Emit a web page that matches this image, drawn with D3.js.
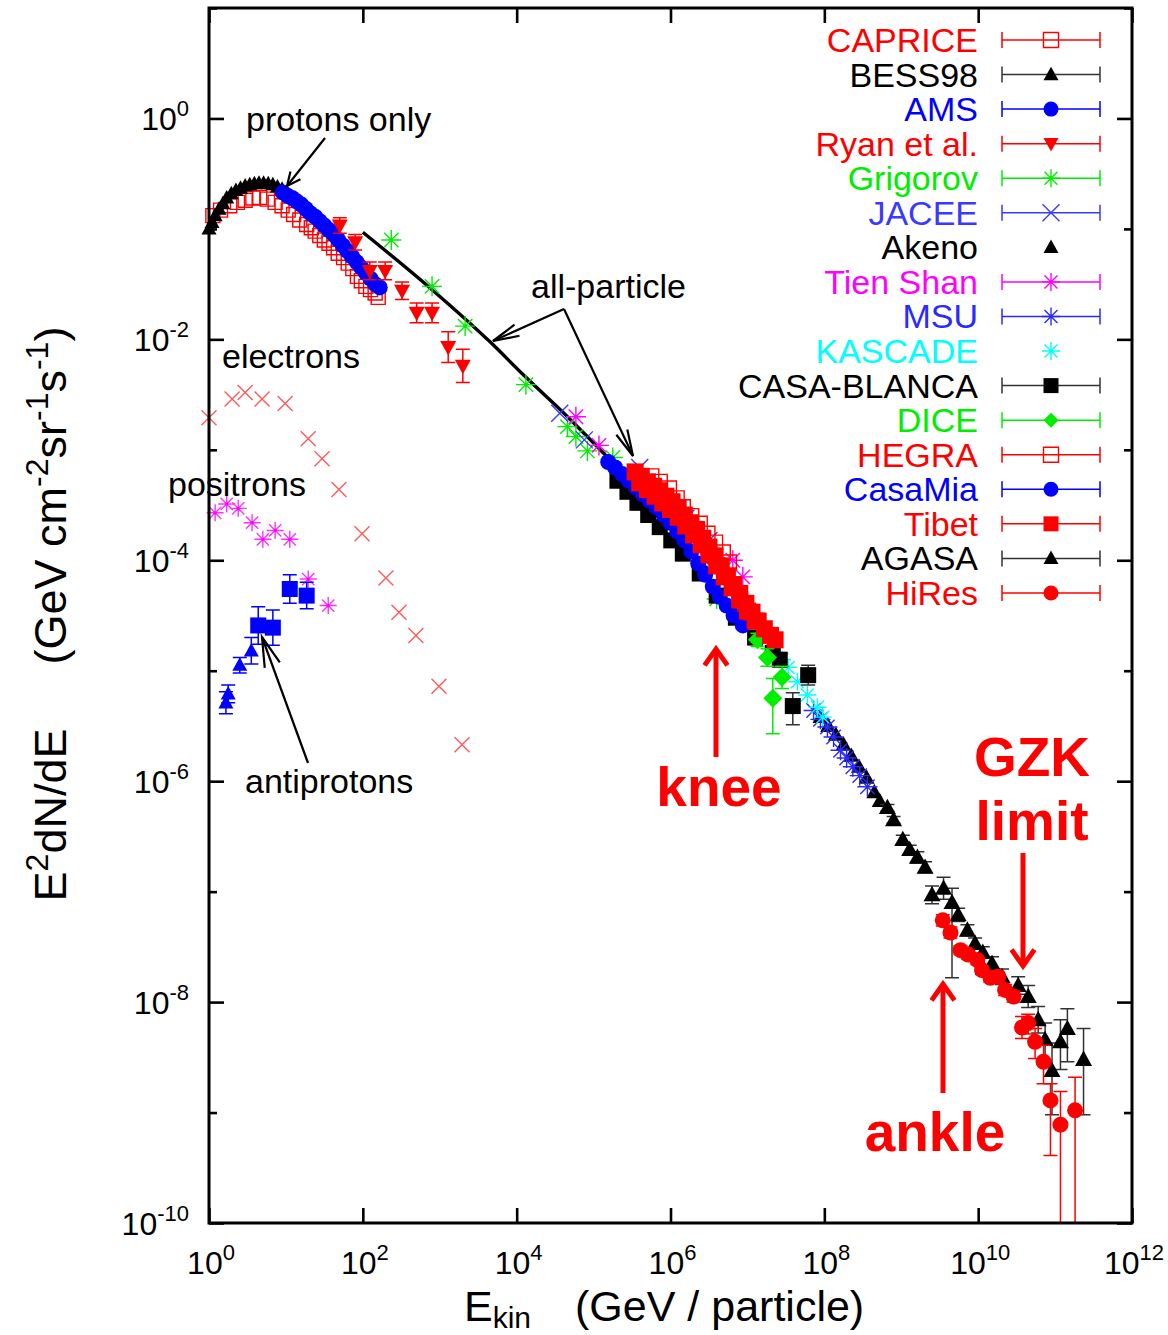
<!DOCTYPE html>
<html><head><meta charset="utf-8">
<script src="https://cdn.jsdelivr.net/npm/d3@7"></script>
<style>body{margin:0;background:#fff}svg{display:block;font-family:"Liberation Sans",Arial,Helvetica,sans-serif}</style>
</head><body><svg id="c" width="1168" height="1335"></svg>
<script>
// ---- DATA: each point = [log10 E (GeV), log10 E^2dN/dE, err up (dex), err down (dex)] ----
const caprice = [[0.05,-0.88],[0.15,-0.83],[0.27,-0.79],[0.37,-0.76],[0.47,-0.74],[0.57,-0.72],[0.66,-0.715],[0.76,-0.73],[0.86,-0.76],[0.95,-0.79],[1.03,-0.83],[1.10,-0.87],[1.18,-0.92],[1.27,-0.96],[1.33,-0.99],[1.38,-1.02],[1.44,-1.06],[1.50,-1.10],[1.56,-1.13],[1.62,-1.17],[1.68,-1.22],[1.75,-1.26],[1.81,-1.31],[1.87,-1.36],[1.93,-1.43],[1.98,-1.47],[2.04,-1.52],[2.10,-1.55],[2.16,-1.58],[2.20,-1.62]];
const bess98 = [[0.00,-1.00],[0.04,-0.94],[0.08,-0.88],[0.13,-0.82],[0.18,-0.77],[0.23,-0.72],[0.29,-0.68],[0.35,-0.65],[0.41,-0.63],[0.47,-0.61],[0.53,-0.60],[0.59,-0.59],[0.65,-0.585],[0.71,-0.585],[0.77,-0.59],[0.83,-0.60],[0.89,-0.62],[0.95,-0.64]];
const ams = [[0.96,-0.67],[1.02,-0.70],[1.08,-0.72],[1.14,-0.75],[1.20,-0.78],[1.26,-0.82],[1.32,-0.86],[1.38,-0.89],[1.44,-0.93],[1.50,-0.97],[1.56,-1.01],[1.62,-1.05],[1.68,-1.10],[1.74,-1.15],[1.80,-1.20],[1.86,-1.25],[1.92,-1.30],[1.98,-1.35],[2.04,-1.40],[2.10,-1.45],[2.16,-1.50],[2.22,-1.53]];
const ryan = [[1.70,-0.97,0.07,0.07],[1.90,-1.12,0.07,0.07],[2.09,-1.38,0.08,0.08],[2.29,-1.38,0.08,0.08],[2.51,-1.56,0.08,0.08],[2.70,-1.76,0.09,0.09],[2.90,-1.76,0.09,0.09],[3.11,-2.07,0.14,0.14],[3.30,-2.24,0.15,0.15]];
const grigorov = [[2.37,-1.10],[2.90,-1.52],[3.33,-1.88],[4.12,-2.41],[4.66,-2.79],[4.77,-2.88],[4.92,-3.01],[5.25,-3.07],[6.60,-4.35]];
const jacee = [[4.56,-2.67],[4.88,-2.91],[5.60,-3.16],[6.20,-3.62],[6.50,-3.82]];
const akeno = [[7.95,-5.42],[8.05,-5.50],[8.15,-5.58],[8.25,-5.67],[8.35,-5.77],[8.45,-5.87],[8.55,-5.97],[8.65,-6.10],[8.72,-6.18]];
const tienShan = [[4.77,-2.70],[5.07,-2.96],[6.81,-4.00],[6.94,-4.15]];
const msu = [[7.86,-5.36],[7.95,-5.44],[8.04,-5.51],[8.12,-5.60],[8.21,-5.72],[8.29,-5.79],[8.37,-5.87],[8.46,-5.95],[8.56,-6.05]];
const kascade = [[7.45,-4.90],[7.53,-4.97],[7.65,-5.10],[7.78,-5.22],[7.91,-5.33],[7.98,-5.42]];
const casaBlanca = [[5.31,-3.28,0.03,0.03],[5.44,-3.38,0.03,0.03],[5.57,-3.48,0.03,0.03],[5.71,-3.59,0.03,0.03],[5.86,-3.70,0.03,0.03],[6.01,-3.82,0.03,0.03],[6.16,-3.94,0.03,0.03],[6.38,-4.12,0.03,0.03],[6.60,-4.32,0.03,0.03],[6.85,-4.52,0.03,0.03],[7.10,-4.70,0.04,0.04],[7.33,-4.84,0.05,0.05],[7.42,-4.90,0.06,0.06],[7.59,-5.32,0.12,0.17],[7.79,-5.04,0.09,0.09]];
const dice = [[7.13,-4.72,0.06,0.06],[7.26,-4.88,0.08,0.08],[7.45,-5.06,0.10,0.10],[7.33,-5.25,0.18,0.32]];
const hegra = [[5.75,-3.24],[5.86,-3.29],[5.98,-3.35],[6.08,-3.44],[6.16,-3.52],[6.27,-3.60],[6.38,-3.67],[6.48,-3.76],[6.58,-3.84],[6.68,-3.93],[6.76,-4.02]];
const casaMia = [[5.19,-3.11],[5.28,-3.16],[5.37,-3.22],[5.46,-3.28],[5.55,-3.34],[5.64,-3.40],[5.73,-3.46],[5.82,-3.52],[5.91,-3.59],[6.00,-3.66],[6.09,-3.74],[6.18,-3.82],[6.27,-3.92],[6.36,-4.03],[6.45,-4.13],[6.55,-4.24],[6.64,-4.33],[6.73,-4.41],[6.82,-4.50],[6.94,-4.59]];
const tibet = [[5.54,-3.20],[5.62,-3.24],[5.70,-3.29],[5.78,-3.33],[5.86,-3.37],[5.94,-3.42],[6.02,-3.47],[6.10,-3.53],[6.18,-3.59],[6.26,-3.66],[6.34,-3.72],[6.42,-3.80],[6.50,-3.88],[6.58,-3.96],[6.66,-4.05],[6.74,-4.14],[6.82,-4.22],[6.90,-4.30],[6.98,-4.39],[7.06,-4.47],[7.14,-4.55],[7.22,-4.62],[7.30,-4.68],[7.36,-4.72],
  [5.60,-3.30],[5.70,-3.36],[5.80,-3.42],[5.90,-3.48],[6.00,-3.54],[6.10,-3.61],[6.20,-3.69],[6.30,-3.77],[6.40,-3.86],[6.50,-3.95],[6.60,-4.05],[6.70,-4.15],[6.80,-4.25],[6.90,-4.36],[7.00,-4.46],[7.10,-4.55]];
const agasa = [[8.82,-6.24,0.03,0.03],[8.90,-6.35,0.03,0.03],[9.02,-6.53,0.04,0.04],[9.11,-6.62,0.04,0.04],[9.21,-6.69,0.05,0.05],[9.31,-6.78,0.05,0.05],[9.40,-7.03,0.08,0.08],[9.55,-6.97,0.10,0.10],[9.66,-7.10,0.13,0.68],[9.74,-7.21,0.06,0.06],[9.86,-7.35,0.05,0.05],[9.96,-7.47,0.05,0.05],[10.06,-7.55,0.05,0.05],[10.18,-7.65,0.06,0.06],[10.31,-7.77,0.07,0.07],[10.52,-7.85,0.08,0.08],[10.65,-7.95,0.10,0.10],[10.78,-8.16,0.12,0.12],[10.87,-8.34,0.15,0.20],[10.96,-8.62,0.25,0.40],[11.07,-8.36,0.20,0.25],[11.16,-8.24,0.18,0.30],[11.37,-8.52,0.28,0.50]];
const hires = [[9.54,-7.26,0.05,0.05],[9.64,-7.37,0.05,0.05],[9.77,-7.53,0.04,0.04],[9.87,-7.57,0.04,0.04],[9.99,-7.62,0.04,0.04],[10.05,-7.71,0.04,0.04],[10.16,-7.78,0.04,0.04],[10.26,-7.77,0.04,0.04],[10.35,-7.89,0.05,0.05],[10.46,-7.95,0.05,0.05],[10.57,-8.23,0.10,0.10],[10.65,-8.19,0.08,0.10],[10.74,-8.36,0.12,0.15],[10.85,-8.54,0.15,0.20],[10.94,-8.89,0.15,0.50],[11.07,-9.11,0.30,2.00],[11.26,-8.98,0.30,2.00]];
const electrons = [[0.00,-2.71],[0.30,-2.54],[0.47,-2.48],[0.69,-2.54],[0.99,-2.58],[1.29,-2.90],[1.47,-3.08],[1.69,-3.36],[1.99,-3.76],[2.30,-4.16],[2.47,-4.47],[2.69,-4.68],[2.99,-5.14],[3.29,-5.67]];
const positrons = [[0.08,-3.57],[0.23,-3.49],[0.38,-3.53],[0.56,-3.66],[0.70,-3.81],[0.86,-3.73],[1.05,-3.81],[1.29,-4.17],[1.55,-4.41]];
const antiprotonTri = [[0.22,-5.29,0.10,0.10],[0.25,-5.21,0.08,0.08],[0.40,-4.95,0.07,0.07],[0.55,-4.82,0.12,0.12]];
const antiprotonSq = [[0.64,-4.59,0.17,0.17],[0.83,-4.61,0.16,0.16],[1.05,-4.26,0.13,0.13],[1.27,-4.32,0.12,0.12]];
const allParticle = [[2.00,-1.03],[2.90,-1.55],[3.65,-2.02],[4.10,-2.33],[4.66,-2.70],[5.20,-3.08]];
const xTickExp = [0,2,4,6,8,10,12];
const yTickExp = [1,0,-1,-2,-3,-4,-5,-6,-7,-8,-9,-10];
const yLabelExp = [0,-2,-4,-6,-8,-10];

// ---- styles / legend table ----
const RED="#ff0000", BLK="#000000", BLU="#0000ff", GRN="#00ee00", MAG="#ff00ff", CYN="#00ffff";
const series = [
  {name:"CAPRICE", data:caprice, shape:"osq", color:RED, size:14, err:true},
  {name:"BESS98", data:bess98, shape:"tri", color:BLK, size:15, err:true},
  {name:"AMS", data:ams, shape:"circ", color:BLU, size:16, err:true},
  {name:"Ryan et al.", data:ryan, shape:"tridown", color:RED, size:16, err:true},
  {name:"Grigorov", data:grigorov, shape:"star", color:GRN, size:20, err:true},
  {name:"JACEE", data:jacee, shape:"x", color:"#3a3aff", size:17, err:true},
  {name:"Akeno", data:akeno, shape:"tri", color:BLK, size:16, err:false},
  {name:"Tien Shan", data:tienShan, shape:"star", color:MAG, size:20, err:true},
  {name:"MSU", data:msu, shape:"star", color:"#2a2aff", size:20, err:true},
  {name:"KASCADE", data:kascade, shape:"star", color:CYN, size:18, err:false},
  {name:"CASA-BLANCA", data:casaBlanca, shape:"sq", color:BLK, size:16, err:true},
  {name:"DICE", data:dice, shape:"dia", color:GRN, size:19, err:true},
  {name:"HEGRA", data:hegra, shape:"osq", color:RED, size:15, err:true},
  {name:"CasaMia", data:casaMia, shape:"circ", color:BLU, size:16, err:true},
  {name:"Tibet", data:tibet, shape:"sq", color:RED, size:17, err:true},
  {name:"AGASA", data:agasa, shape:"tri", color:BLK, size:17, err:true},
  {name:"HiRes", data:hires, shape:"circ", color:RED, size:16, err:true}
];

const svg = d3.select("#c");
const L=209, R=1132, T=8, B=1223;
const x = d3.scaleLog().domain([1,1e12]).range([L,R]);
const y = d3.scaleLog().domain([1e-10,1e1]).range([B,T]);
const px = v => x(Math.pow(10,v));
const py = v => y(Math.pow(10,v));

svg.append("defs").append("clipPath").attr("id","clip")
  .append("rect").attr("x",L).attr("y",T).attr("width",R-L).attr("height",B-T);

function markerPath(shape, s){
  const h=s/2;
  switch(shape){
    case "sq": case "osq": return `M${-h},${-h}H${h}V${h}H${-h}Z`;
    case "tri": return `M0,${-h*1.05}L${h},${h*0.75}L${-h},${h*0.75}Z`;
    case "tridown": return `M0,${h*1.05}L${h},${-h*0.75}L${-h},${-h*0.75}Z`;
    case "dia": return `M0,${-h}L${h},0L0,${h}L${-h},0Z`;
    case "x": return `M${-h},${-h}L${h},${h}M${-h},${h}L${h},${-h}`;
    case "star": { const d=h*0.72; return `M${-h},0H${h}M0,${-h}V${h}M${-d},${-d}L${d},${d}M${-d},${d}L${d},${-d}`; }
    case "circ": return d3.arc()({innerRadius:0,outerRadius:h,startAngle:0,endAngle:2*Math.PI});
  }
}
function styleMarker(sel, shape, color){
  if (shape==="osq") sel.attr("fill","none").attr("stroke",color).attr("stroke-width",1.4);
  else if (shape==="x"||shape==="star") sel.attr("fill","none").attr("stroke",color).attr("stroke-width",1.4);
  else sel.attr("fill",color).attr("stroke","none");
}
const errCol = c => c===BLK ? "#333" : c;

function drawSeries(g, data, shape, color, size, err){
  if (err){
    const eg = g.append("g").attr("clip-path","url(#clip)").attr("stroke",errCol(color)).attr("stroke-width",1.5).attr("fill","none");
    data.filter(d=>d.length>2).forEach(d=>{
      const cx=px(d[0]), y1=py(d[1]+d[2]), y2=py(d[1]-d[3]);
      eg.append("path").attr("d",`M${cx},${y1}V${y2}M${cx-7},${y1}H${cx+7}M${cx-7},${y2}H${cx+7}`);
    });
  }
  const mg = g.append("g");
  data.forEach(d=>{
    const p = mg.append("path").attr("d",markerPath(shape,size)).attr("transform",`translate(${px(d[0])},${py(d[1])})`);
    styleMarker(p, shape, color);
  });
}

// all-particle line
svg.append("path").datum(allParticle).attr("clip-path","url(#clip)")
  .attr("d", d3.line().x(d=>px(d[0])).y(d=>py(d[1])).curve(d3.curveMonotoneX))
  .attr("fill","none").attr("stroke","#000").attr("stroke-width",3.4);

// electrons / positrons / antiprotons
drawSeries(svg.append("g"), electrons, "x", "#ff5a5a", 15, false);
drawSeries(svg.append("g"), positrons, "star", "#ff33ff", 17, false);
svg.append("g").selectAll("circle").data(positrons).join("circle").attr("cx",d=>px(d[0])).attr("cy",d=>py(d[1])).attr("r",1.6).attr("fill","#ff00ff");
drawSeries(svg.append("g"), antiprotonTri, "tri", BLU, 15, true);
drawSeries(svg.append("g"), antiprotonSq, "sq", BLU, 16, true);

// experiment series
series.forEach(s=> drawSeries(svg.append("g"), s.data, s.shape, s.color, s.size, s.err));

// frame and ticks
function tickAxis(axisFn, scale, vals, size, transform){
  const g = svg.append("g").attr("transform",transform)
    .call(axisFn(scale).tickValues(vals).tickSize(-size).tickFormat(""));
  g.select(".domain").remove();
  g.selectAll("line").attr("stroke","#000").attr("stroke-width",2.6);
}
const xVals = xTickExp.map(e=>Math.pow(10,e));
const yMaj = yTickExp.filter(e=>e%2===0).map(e=>Math.pow(10,e));
const yMin = yTickExp.filter(e=>e%2!==0).map(e=>Math.pow(10,e));
tickAxis(d3.axisBottom, x, xVals, 15, `translate(0,${B})`);
tickAxis(d3.axisTop, x, xVals, 15, `translate(0,${T})`);
tickAxis(d3.axisLeft, y, yMaj, 15, `translate(${L},0)`);
tickAxis(d3.axisLeft, y, yMin, 8, `translate(${L},0)`);
tickAxis(d3.axisRight, y, yMaj, 15, `translate(${R},0)`);
tickAxis(d3.axisRight, y, yMin, 8, `translate(${R},0)`);
svg.append("rect").attr("x",L).attr("y",T).attr("width",R-L).attr("height",B-T)
  .attr("fill","none").attr("stroke","#000").attr("stroke-width",3);

// tick labels
function powLabel(g, xx, yy, exp, anchor){
  const t = g.append("text").attr("x",xx).attr("y",yy).attr("text-anchor",anchor).attr("font-size",32).attr("fill","#000");
  t.append("tspan").text("10");
  t.append("tspan").attr("dy",-14).attr("font-size",22).text(String(exp));
}
const lab = svg.append("g");
xTickExp.forEach(e=> powLabel(lab, x(Math.pow(10,e))+2, 1274, e, "middle"));
yLabelExp.forEach(e=> powLabel(lab, 189, y(Math.pow(10,e))+12, e, "end"));

// axis titles
const xt = svg.append("text").attr("x",464).attr("y",1321).attr("font-size",43).attr("fill","#000");
xt.append("tspan").text("E");
xt.append("tspan").attr("dy",7).attr("font-size",30).text("kin");
xt.append("tspan").attr("dy",-7).attr("dx",44).text("(GeV / particle)");

const yt = svg.append("text").attr("transform","translate(66,614) rotate(-90)").attr("text-anchor","middle").attr("font-size",45).attr("fill","#000");
yt.append("tspan").text("E");
yt.append("tspan").attr("dy",-18).attr("font-size",32).text("2");
yt.append("tspan").attr("dy",18).text("dN/dE");
yt.append("tspan").attr("dx",64).text("(GeV cm");
yt.append("tspan").attr("dy",-18).attr("font-size",32).text("-2");
yt.append("tspan").attr("dy",18).text("sr");
yt.append("tspan").attr("dy",-18).attr("font-size",32).text("-1");
yt.append("tspan").attr("dy",18).text("s");
yt.append("tspan").attr("dy",-18).attr("font-size",32).text("-1");
yt.append("tspan").attr("dy",18).text(")");

// legend
const lg = svg.append("g");
series.forEach((s,i)=>{
  const cy = 40 + i*34.56;
  lg.append("text").attr("x",978).attr("y",cy+12).attr("text-anchor","end").attr("font-size",34)
    .attr("fill", s.color).text(s.name);
  if (s.err){
    lg.append("path").attr("d",`M1002,${cy}H1100M1002,${cy-8}V${cy+8}M1100,${cy-8}V${cy+8}`)
      .attr("stroke",errCol(s.color)).attr("stroke-width",1.5).attr("fill","none");
  }
  const sz = s.shape==="star"?18 : s.shape==="x"?17 : 15;
  const p = lg.append("path").attr("d",markerPath(s.shape,sz)).attr("transform",`translate(1051,${cy})`);
  styleMarker(p, s.shape, s.color);
});

// annotations
const an = svg.append("g");
function arrow(x1,y1,x2,y2,len,ang,color,w){
  const a = Math.atan2(y1-y2,x1-x2), r = ang*Math.PI/180;
  const g = an.append("g").attr("stroke",color).attr("stroke-width",w).attr("fill","none");
  g.append("path").attr("d",`M${x1},${y1}L${x2},${y2}`);
  g.append("path").attr("d",`M${x2+len*Math.cos(a+r)},${y2+len*Math.sin(a+r)}L${x2},${y2}L${x2+len*Math.cos(a-r)},${y2+len*Math.sin(a-r)}`).attr("stroke-linejoin","miter");
}
const txt = (s,xx,yy,opt={}) => an.append("text").attr("x",xx).attr("y",yy).attr("font-size",opt.size||34)
  .attr("font-weight",opt.bold?"bold":"normal").attr("fill",opt.color||"#000").attr("text-anchor",opt.anchor||"start").text(s);
txt("protons only",246,131);
txt("all-particle",531,298);
txt("electrons",222,368);
txt("positrons",168,496);
txt("antiprotons",245,793);
arrow(325,138,287,186,15,25,"#000",2.2);
arrow(564,309,493,341,27,13,"#000",2.2);
arrow(564,309,633,456,27,13,"#000",2.2);
arrow(308,763,262,637,31,15,"#000",2.2);
txt("knee",719,806,{size:55,bold:true,color:RED,anchor:"middle"});
txt("GZK",1032,776,{size:55,bold:true,color:RED,anchor:"middle"});
txt("limit",1032,840,{size:55,bold:true,color:RED,anchor:"middle"});
txt("ankle",935,1151,{size:55,bold:true,color:RED,anchor:"middle"});
arrow(716,757,716,649,20,35,RED,5);
arrow(1023,853,1023,966,20,35,RED,5);
arrow(943,1093,943,984,20,35,RED,5);
</script>
</body></html>
